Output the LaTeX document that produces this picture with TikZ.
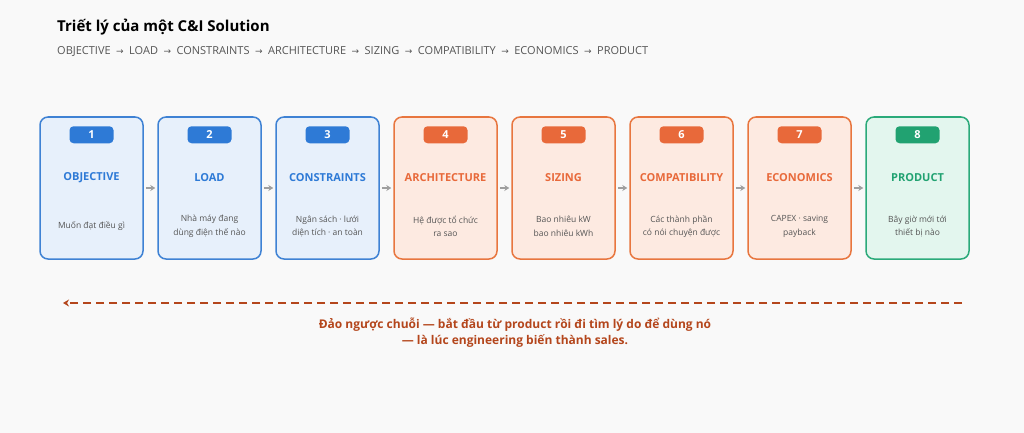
\documentclass[tikz,border=0pt]{standalone}
\usepackage{fontspec}
\setmainfont{Open Sans}
\newfontfamily\arrowfont{DejaVu Sans}
\usetikzlibrary{arrows.meta,positioning}

\begin{document}
\begin{tikzpicture}[x=1pt,y=-1pt]
    % Local definitions
    \def\boxw{103pt}
    \def\boxh{142pt}
    \def\pitch{118}
    \def\nxt{\hspace{5.5pt}{\arrowfont\fontsize{9}{9}\selectfont →}\hspace{5.5pt}}

    % Colors
    \definecolor{page color}{HTML}{F9F9F9}
    \definecolor{blue line}{HTML}{3F82D4}
    \definecolor{blue fill}{HTML}{E7F0FB}
    \definecolor{blue mark}{HTML}{2E7AD6}
    \definecolor{orange line}{HTML}{E8763F}
    \definecolor{orange fill}{HTML}{FDEAE1}
    \definecolor{orange mark}{HTML}{E8693A}
    \definecolor{green line}{HTML}{2BAA7A}
    \definecolor{green fill}{HTML}{E3F6EE}
    \definecolor{green mark}{HTML}{21A271}
    \definecolor{note color}{HTML}{B4461C}
    \definecolor{text gray}{HTML}{555555}

    % Styles
    \tikzstyle{step box} = [rounded corners=8pt,line width=1.5pt,
        minimum width=\boxw,minimum height=\boxh,inner sep=0pt]
    \tikzstyle{badge} = [rounded corners=4pt,minimum width=44pt,minimum height=17pt,
        inner sep=0pt,text=white,font=\fontsize{11}{11}\selectfont\bfseries]
    \tikzstyle{step title} = [font=\fontsize{11}{11}\selectfont\bfseries]
    \tikzstyle{step text} = [align=center,text=text gray,
        font=\fontsize{8.5}{13.5}\selectfont]
    \tikzstyle{flow} = [draw=gray!75,line width=1.5pt,shorten <=2pt,shorten >=2pt,
        -{Stealth[length=5pt,width=6pt]}]
    \tikzstyle{back line} = [draw=note color,line width=1.6pt,dash pattern=on 8pt off 5pt,
        -{Stealth[length=6pt,width=7pt]}]

    %%% Page
    \fill[page color] (0,0) rectangle (1024,433);
    \useasboundingbox (0,0) rectangle (1024,433);

    \node[anchor=base west,inner sep=0pt,font=\fontsize{15}{15}\selectfont\bfseries] (heading)
        at (57,31.5) {Triết lý của một C\&I Solution};
    \node[anchor=base west,inner sep=0pt,text=text gray,font=\fontsize{11}{11}\selectfont] (chain)
        at (57,55)
        {OBJECTIVE\nxt LOAD\nxt CONSTRAINTS\nxt ARCHITECTURE\nxt SIZING\nxt
         COMPATIBILITY\nxt ECONOMICS\nxt PRODUCT};
    %%%

    %%% Steps
    \foreach \i/\col/\name/\desc in {
        1/blue/OBJECTIVE/{Muốn đạt điều gì},
        2/blue/LOAD/{Nhà máy đang\\dùng điện thế nào},
        3/blue/CONSTRAINTS/{Ngân sách · lưới\\diện tích · an toàn},
        4/orange/ARCHITECTURE/{Hệ được tổ chức\\ra sao},
        5/orange/SIZING/{Bao nhiêu kW\\bao nhiêu kWh},
        6/orange/COMPATIBILITY/{Các thành phần\\có nói chuyện được},
        7/orange/ECONOMICS/{CAPEX · saving\\payback},
        8/green/PRODUCT/{Bây giờ mới tới\\thiết bị nào}}
    {
        \node[step box,draw=\col\space line,fill=\col\space fill] (s\i)
            at ({91.5+(\i-1)*\pitch},188) {};
        \node[badge,fill=\col\space mark] (b\i) at ([yshift=-18.5pt]s\i.north) {\i};
        \node[step title,text=\col\space mark] (t\i) at ([yshift=10.5pt]s\i.center) {\name};
        \node[step text] (d\i) at ([yshift=-38.5pt]s\i.center) {\desc};
    }

    % Flow arrows
    \foreach \i [count=\j from 2] in {1,...,7}
        \draw[flow] (s\i) -- (s\j);
    %%%

    %%% Reverse chain
    \coordinate (back start) at (962,303);
    \coordinate (back end) at (63,303);
    \draw[back line] (back start) -- (back end);

    \node[align=center,text=note color,font=\fontsize{12}{16}\selectfont\bfseries] (note)
        at (515,333)
        {Đảo ngược chuỗi — bắt đầu từ product rồi đi tìm lý do để dùng nó\\
         — là lúc engineering biến thành sales.};
    %%%
\end{tikzpicture}
\end{document}
